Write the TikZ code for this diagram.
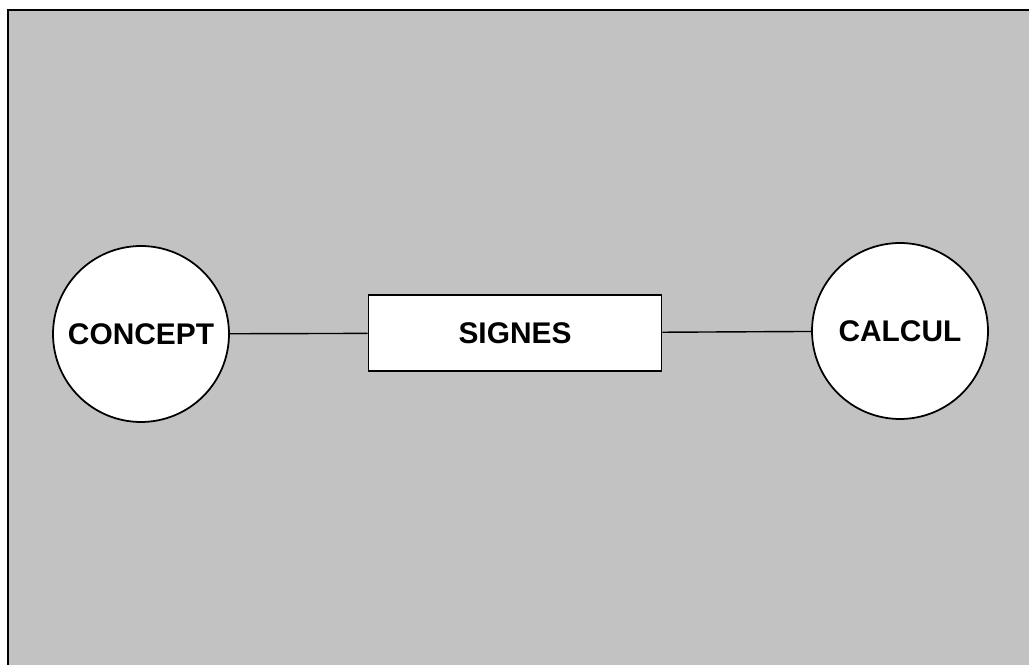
\documentclass[tikz,border=0pt]{standalone}
\usepackage{fontspec}
\setmainfont{Liberation Sans}
\usetikzlibrary{positioning}

\tikzset{
    idea/.style={circle, draw, line width=1pt, fill=white, minimum size=3.52cm, inner sep=0pt, font=\fontsize{17}{20}\selectfont\bfseries},
    signbox/.style={rectangle, draw, line width=1pt, fill=white, minimum width=5.86cm, minimum height=1.52cm, font=\fontsize{17}{20}\selectfont\bfseries},
    link/.style={line width=0.8pt}
}

\begin{document}
\begin{tikzpicture}[x=0.02cm, y=-0.02cm]
        % Page and screened background
        \useasboundingbox (0,0) rectangle (1029,665);
        \fill[white] (0,0) rectangle (1029,665);
        \fill[black!24] (8,10) rectangle (1029,665);
        \draw[line width=1.5pt] (8,665) -- (8,10) -- (1029,10);

        % Concepts
        \node[idea] (concept) at (141,334) {CONCEPT};
        \node[idea] (calcul) at (900,331) {CALCUL};

        % Signs in the middle
        \node[signbox] (signes) at (515,333) {SIGNES};

        % Links
        \draw[link] (concept) -- (signes);
        \draw[link] (signes) -- (calcul);
    \end{tikzpicture}
\end{document}
